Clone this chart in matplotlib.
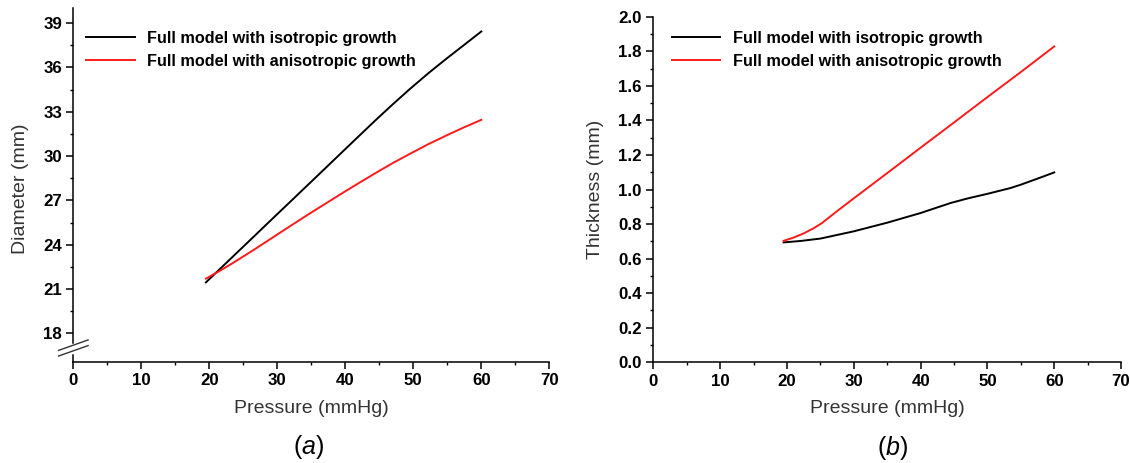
import matplotlib
matplotlib.use("Agg")
import matplotlib.pyplot as plt
from matplotlib.ticker import MultipleLocator, FixedLocator, FormatStrFormatter
import numpy as np

plt.rcParams['font.family'] = ['Liberation Sans', 'DejaVu Sans']
plt.rcParams['mathtext.fontset'] = 'custom'
plt.rcParams['mathtext.it'] = 'Liberation Sans:italic'
plt.rcParams['mathtext.rm'] = 'Liberation Sans'

# values
p_iso_a = [19.5, 21.5, 23.5, 26, 28.4, 31.5, 34.8, 37.3, 39.7, 42.2, 44.6, 47, 49.5, 52.2, 54.9, 57.5, 60]
diam_iso = [21.45, 22.33, 23.21, 24.31, 25.37, 26.73, 28.18, 29.28, 30.34, 31.44, 32.49, 33.51, 34.54, 35.6, 36.6, 37.53, 38.43]
p_aniso_a = [19.5, 21.5, 23.5, 26.5, 29.9, 32.4, 34.8, 37.3, 39.7, 42.2, 44.6, 47, 49.5, 52.2, 54.9, 57.5, 60]
diam_aniso = [21.7, 22.22, 22.77, 23.64, 24.66, 25.41, 26.12, 26.84, 27.53, 28.23, 28.89, 29.53, 30.15, 30.8, 31.4, 31.95, 32.45]

p_iso_b = [19.5, 22, 25, 30, 35, 40, 44.5, 47, 50, 53.4, 55, 57.5, 60]
thick_iso = [0.694, 0.702, 0.716, 0.758, 0.808, 0.864, 0.922, 0.948, 0.975, 1.008, 1.028, 1.063, 1.099]
p_aniso_b = [19.5, 21, 22.5, 24, 25.2, 27.5, 30, 35, 40, 45, 50, 55, 60]
thick_aniso = [0.703, 0.722, 0.746, 0.776, 0.805, 0.875, 0.949, 1.095, 1.242, 1.388, 1.535, 1.68, 1.828]

labels = ["Full model with isotropic growth", "Full model with anisotropic growth"]
colors = ["black", "#ff1a1a"]

fig = plt.figure(figsize=(11.3, 4.63), dpi=100)
ax1 = fig.add_axes([0.0649, 0.2188, 0.4212, 0.7633])
ax2 = fig.add_axes([0.5782, 0.2175, 0.4139, 0.7464])

lw = 1.4
ax1.plot(p_iso_a, diam_iso, color=colors[0], lw=lw, label=labels[0])
ax1.plot(p_aniso_a, diam_aniso, color=colors[1], lw=lw, label=labels[1])
ax2.plot(p_iso_b, thick_iso, color=colors[0], lw=lw, label=labels[0])
ax2.plot(p_aniso_b, thick_aniso, color=colors[1], lw=lw, label=labels[1])

for ax in (ax1, ax2):
    ax.spines['top'].set_visible(False)
    ax.spines['right'].set_visible(False)
    for s in ('left', 'bottom'):
        ax.spines[s].set_linewidth(1.1)
    ax.set_xlim(0, 70)
    ax.xaxis.set_major_locator(MultipleLocator(10))
    ax.xaxis.set_minor_locator(MultipleLocator(5))
    ax.tick_params(which='major', direction='out', length=4.7, width=1.1,
                   labelsize=12.2, pad=3.5)
    ax.tick_params(which='minor', direction='out', length=2.5, width=1.0)
    ax.set_xlabel("Pressure (mmHg)", fontsize=14, color='#333333')
    ax.xaxis.set_label_coords(0.5, -0.108)

# left panel, y axis broken below 18
ax1.set_ylim(16.08, 40.0)
ax1.yaxis.set_major_locator(FixedLocator(np.arange(18, 40, 3)))
ax1.yaxis.set_minor_locator(FixedLocator(np.arange(19.5, 40, 3)))
ax1.spines['left'].set_bounds(17.35, 40.0)
ax1.plot([0, 0], [0, 0.019], transform=ax1.transAxes, color='black',
         lw=1.1, clip_on=False)
for off in (0.008, -0.008):
    ax1.plot([-0.031, 0.031], [0.0240 + off, 0.0536 + off],
             transform=ax1.transAxes, color='#333333', lw=1.0, clip_on=False)
ax1.set_ylabel("Diameter (mm)", fontsize=14, color='#333333')
ax1.yaxis.set_label_coords(-0.094, 0.49)

# right panel
ax2.set_ylim(0, 2.0)
ax2.yaxis.set_major_locator(MultipleLocator(0.2))
ax2.yaxis.set_minor_locator(MultipleLocator(0.1))
ax2.yaxis.set_major_formatter(FormatStrFormatter('%.1f'))
ax2.set_ylabel("Thickness (mm)", fontsize=14, color='#333333')
ax2.yaxis.set_label_coords(-0.105, 0.5)

for ax in (ax1, ax2):
    for t in ax.get_xticklabels() + ax.get_yticklabels():
        t.set_fontweight('bold')

leg_kw = dict(loc='upper left', frameon=False, borderpad=0, borderaxespad=0,
              handlelength=3.0, handletextpad=0.75, labelspacing=0.49,
              prop={'weight': 'bold', 'size': 11.7})
ax1.legend(bbox_to_anchor=(0.027, 0.937), **leg_kw)
ax2.legend(bbox_to_anchor=(0.039, 0.960), **leg_kw)

fig.text(309 / 1130, 1 - 447 / 463, r"($\mathit{a}$)", fontsize=18,
         ha='center', va='center')
fig.text(893 / 1130, 1 - 448 / 463, r"($\mathit{b}$)", fontsize=18,
         ha='center', va='center')

fig.savefig("out.png", dpi=100)
